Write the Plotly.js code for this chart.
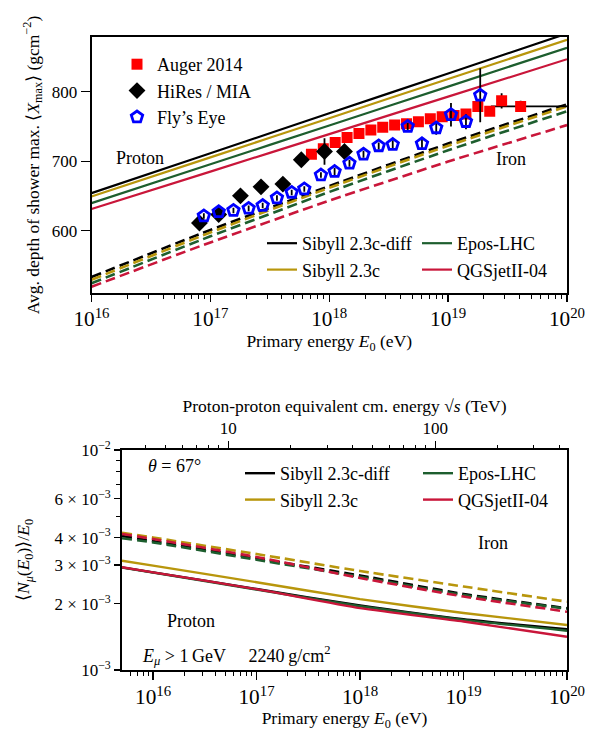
<!DOCTYPE html>
<html><head><meta charset="utf-8">
<script src="https://cdn.plot.ly/plotly-3.0.1.min.js"></script>
<style>html,body{margin:0;padding:0;background:#fff;} #chart{width:595px;height:731px;}</style>
</head><body><div id="chart"></div>
<script>
// ---------------- data ----------------
// Top panel: <Xmax> vs log10(E0/eV)
const modelNames = ['Sibyll 2.3c-diff', 'Sibyll 2.3c', 'Epos-LHC', 'QGSjetII-04'];
const modelColors = ['#000000', '#b8960c', '#1d5e2e', '#c9163a'];

const lgE_xmaxModel = [16, 17, 18, 19, 20];
const xmaxProton_sibyllDiff = [654, 711.5, 769, 826.5, 884];
const xmaxProton_sibyll     = [649, 705.5, 762, 818.5, 875];
const xmaxProton_epos       = [639.5, 695.5, 751.5, 807.5, 863.5];
const xmaxProton_qgsjet     = [631, 685, 739, 793, 847];
const xmaxIron_sibyllDiff   = [533, 600.9, 664.1, 725.4, 782];
const xmaxIron_sibyll       = [529, 597.2, 661.6, 722.2, 779];
const xmaxIron_epos         = [524, 591.7, 655.6, 715.7, 772];
const xmaxIron_qgsjet       = [519, 582.9, 643.1, 699.4, 752];

const auger_lgE  = [17.85, 17.95, 18.05, 18.15, 18.25, 18.35, 18.45, 18.55, 18.65, 18.75, 18.85, 18.95, 19.05, 19.15, 19.25, 19.35, 19.45, 19.61];
const auger_xmax = [710, 718, 727, 734, 740, 745, 749, 752, 754, 757, 761, 764, 766, 768, 779, 772, 787, 779];
const auger_err  = [2, 2, 2, 2, 2, 2, 3, 3, 3, 3, 3, 4, 4, 5, 6, 7, 11, 8];
const auger_lastBin_lgE = [19.36, 20.0];

const hires_lgE  = [16.908, 17.07, 17.253, 17.426, 17.61, 17.765, 17.96, 18.128];
const hires_xmax = [611, 623, 650, 663, 667, 702, 714, 714];
const hires_err  = [4, 4, 4, 4, 4, 5, 19, 5];

const fly_lgE  = [16.945, 17.07, 17.194, 17.322, 17.44, 17.56, 17.684, 17.79, 17.93, 18.045, 18.17, 18.288, 18.416, 18.534, 18.66, 18.78, 18.9, 19.024, 19.15, 19.27];
const fly_xmax = [621, 627, 629, 632, 636, 647, 655, 660, 680, 685, 697, 710, 722, 724, 750, 725, 748, 767, 757, 795];
const fly_err  = [4, 4, 4, 4, 4, 4, 4, 4, 4, 5, 5, 5, 5, 6, 5, 7, 10, 17, 11, 39];

// Bottom panel: <N_mu(E0)>/E0 vs log10(E0/eV)
const lgE_nmuModel = [15.7, 16, 17, 18, 19, 20];
const nmuProton_sibyllDiff = [2.929e-3, 2.780e-3, 2.334e-3, 1.963e-3, 1.700e-3, 1.531e-3];
const nmuProton_sibyll     = [3.14e-3, 2.98e-3, 2.506e-3, 2.099e-3, 1.817e-3, 1.601e-3];
const nmuProton_epos       = [2.92e-3, 2.77e-3, 2.32e-3, 1.95e-3, 1.69e-3, 1.509e-3];
const nmuProton_qgsjet     = [2.93e-3, 2.78e-3, 2.33e-3, 1.912e-3, 1.661e-3, 1.417e-3];
const nmuIron_sibyllDiff   = [4.064e-3, 3.856e-3, 3.218e-3, 2.689e-3, 2.216e-3, 1.908e-3];
const nmuIron_sibyll       = [4.207e-3, 4.001e-3, 3.367e-3, 2.818e-3, 2.396e-3, 2.044e-3];
const nmuIron_epos         = [3.97e-3, 3.80e-3, 3.17e-3, 2.65e-3, 2.19e-3, 1.90e-3];
const nmuIron_qgsjet       = [4.154e-3, 3.94e-3, 3.262e-3, 2.62e-3, 2.158e-3, 1.841e-3];

// tick labels
const xmaxTickVals = [600, 700, 800];
const nmuTickVals = [1e-3, 2e-3, 3e-3, 4e-3, 6e-3, 1e-2];
const nmuTickText = ['10<sup>\u22123</sup>', '2 \u00d7 10<sup>\u22123</sup>', '3 \u00d7 10<sup>\u22123</sup>', '4 \u00d7 10<sup>\u22123</sup>', '6 \u00d7 10<sup>\u22123</sup>', '10<sup>\u22122</sup>'];
const nmuMinorVals = [5e-3, 7e-3, 8e-3, 9e-3];
const sqrtsTickVals = [10, 100];
const sqrtsTickText = ['10', '100'];
const sqrtsMinorVals = [4, 5, 6, 7, 8, 9, 20, 30, 40, 50, 60, 70, 80, 90, 200, 300, 400];

// ---------------- helpers ----------------
const toE = a => a.map(v => Math.pow(10, v));
const protonMassEV = 0.938e9;
const lgSqrtsTeV = lgE => 0.5 * (Math.log10(2 * protonMassEV) + lgE) - 12;

const W = 595, H = 731;
const px = v => v / W;
const py = v => 1 - v / H;

const FONT = 'Liberation Serif, Times New Roman, serif';
const fs = 17.5;

const traces = [];
const xmaxProton = [xmaxProton_sibyllDiff, xmaxProton_sibyll, xmaxProton_epos, xmaxProton_qgsjet];
const xmaxIron = [xmaxIron_sibyllDiff, xmaxIron_sibyll, xmaxIron_epos, xmaxIron_qgsjet];
const nmuProton = [nmuProton_sibyllDiff, nmuProton_sibyll, nmuProton_epos, nmuProton_qgsjet];
const nmuIron = [nmuIron_sibyllDiff, nmuIron_sibyll, nmuIron_epos, nmuIron_qgsjet];
const topLegends = ['legend2', 'legend2', 'legend3', 'legend3'];
const botLegends = ['legend4', 'legend4', 'legend5', 'legend5'];

for (let i = 0; i < 4; i++) {
  traces.push({x: toE(lgE_xmaxModel), y: xmaxProton[i], xaxis: 'x', yaxis: 'y', mode: 'lines',
    line: {color: modelColors[i], width: 2.2, shape: 'spline', smoothing: 0.6},
    name: modelNames[i], legend: topLegends[i], showlegend: true});
}
for (let i = 0; i < 4; i++) {
  traces.push({x: toE(lgE_xmaxModel), y: xmaxIron[i], xaxis: 'x', yaxis: 'y', mode: 'lines',
    line: {color: modelColors[i], width: 2.6, dash: '10px,5px', shape: 'spline', smoothing: 0.6},
    name: modelNames[i] + ' (Fe)', showlegend: false});
}
// data
const augerE = toE(auger_lgE);
const lastIdx = augerE.length - 1;
const augerXPlus = augerE.map((e, i) => i === lastIdx ? Math.pow(10, auger_lastBin_lgE[1]) - e : 0);
const augerXMinus = augerE.map((e, i) => i === lastIdx ? e - Math.pow(10, auger_lastBin_lgE[0]) : 0);
traces.push({x: augerE, y: auger_xmax, xaxis: 'x', yaxis: 'y', mode: 'markers', name: 'Auger 2014',
  marker: {symbol: 'square', size: 11, color: '#ff0000'},
  error_y: {type: 'data', array: auger_err, color: '#000', thickness: 1.8, width: 0},
  error_x: {type: 'data', array: augerXPlus, arrayminus: augerXMinus, symmetric: false, color: '#000', thickness: 1.8, width: 0},
  legend: 'legend'});
traces.push({x: toE(hires_lgE), y: hires_xmax, xaxis: 'x', yaxis: 'y', mode: 'markers', name: 'HiRes / MIA',
  marker: {symbol: 'diamond', size: 13, color: '#000000'},
  error_y: {type: 'data', array: hires_err, color: '#000', thickness: 1.8, width: 0},
  legend: 'legend'});
traces.push({x: toE(fly_lgE), y: fly_xmax, xaxis: 'x', yaxis: 'y', mode: 'markers', name: 'Fly\u2019s Eye',
  marker: {symbol: 'pentagon-open', size: 12, color: '#0000ff', line: {width: 2.8, color: '#0000ff'}},
  error_y: {type: 'data', array: fly_err, color: '#000', thickness: 1.8, width: 0},
  legend: 'legend'});

// bottom
for (let i = 0; i < 4; i++) {
  traces.push({x: toE(lgE_nmuModel), y: nmuIron[i], xaxis: 'x2', yaxis: 'y2', mode: 'lines',
    line: {color: modelColors[i], width: 2.6, dash: '10px,5px', shape: 'spline', smoothing: 0.6},
    name: modelNames[i] + ' (Fe)', showlegend: false});
}
for (let i = 0; i < 4; i++) {
  traces.push({x: toE(lgE_nmuModel), y: nmuProton[i], xaxis: 'x2', yaxis: 'y2', mode: 'lines',
    line: {color: modelColors[i], width: 2.4, shape: 'spline', smoothing: 0.6},
    name: modelNames[i], legend: botLegends[i], showlegend: true});
}
// binds the secondary sqrt(s) axis
traces.push({x: [], y: [], xaxis: 'x3', yaxis: 'y2', mode: 'lines', showlegend: false, hoverinfo: 'skip'});

const tickFont = {family: FONT, size: 17, color: '#000'};
const axisCommon = {showline: true, linecolor: '#000', linewidth: 1.8, mirror: true, ticks: 'outside',
  tickcolor: '#000', tickwidth: 1.3, showgrid: false, zeroline: false, tickfont: tickFont, automargin: false};

const legendCommon = {bgcolor: 'rgba(0,0,0,0)', borderwidth: 0, xanchor: 'left', yanchor: 'top',
  font: {family: FONT, size: 18, color: '#000'}, itemwidth: 30, traceorder: 'normal'};

const annFont = {family: FONT, size: 18, color: '#000'};
const ann = (x, y, text) => ({xref: 'paper', yref: 'paper', x: px(x), y: py(y), text: text,
  showarrow: false, font: annFont, xanchor: 'center', yanchor: 'middle'});

const layout = {
  width: W, height: H,
  margin: {l: 0, r: 0, t: 0, b: 0},
  paper_bgcolor: '#fff', plot_bgcolor: '#fff',
  hovermode: false,
  font: {family: FONT, size: fs, color: '#000'},
  xaxis: Object.assign({}, axisCommon, {type: 'log', range: [16, 20], domain: [px(91.5), px(567)], anchor: 'y',
    dtick: 1, exponentformat: 'power', ticklen: 7,
    minor: {ticks: 'outside', ticklen: 4, tickwidth: 1, tickcolor: '#000', dtick: 'D1'},
    title: {text: 'Primary energy <i>E</i><sub>0</sub> (eV)', font: {family: FONT, size: fs}, standoff: 1}}),
  yaxis: Object.assign({}, axisCommon, {range: [510, 879], domain: [py(293), py(37)], anchor: 'x',
    tickvals: xmaxTickVals, ticklen: 9,
    title: {text: 'Avg. depth of shower max. \u27e8<i>X</i><sub>max</sub>\u27e9 (gcm<sup>\u22122</sup>)', font: {family: FONT, size: fs}, standoff: 8}}),
  xaxis2: Object.assign({}, axisCommon, {type: 'log', range: [15.7, 20], domain: [px(122), px(567)], anchor: 'y2',
    dtick: 1, exponentformat: 'power', ticklen: 8,
    minor: {ticks: 'outside', ticklen: 4, tickwidth: 1, tickcolor: '#000', dtick: 'D1'},
    title: {text: 'Primary energy <i>E</i><sub>0</sub> (eV)', font: {family: FONT, size: fs}, standoff: 5}}),
  yaxis2: Object.assign({}, axisCommon, {type: 'log', range: [-3, -2], domain: [py(670), py(450)], anchor: 'x2',
    tickvals: nmuTickVals, ticktext: nmuTickText, ticklen: 6,
    minor: {ticks: 'outside', ticklen: 4, tickwidth: 1, tickcolor: '#000', tickvals: nmuMinorVals},
    title: {text: '\u27e8<i>N</i><sub><i>\u03bc</i></sub>(<i>E</i><sub>0</sub>)\u27e9/<i>E</i><sub>0</sub>', font: {family: FONT, size: fs}, standoff: 20}}),
  xaxis3: {type: 'log', overlaying: 'x2', side: 'top', anchor: 'y2',
    range: [lgSqrtsTeV(15.7), lgSqrtsTeV(20)],
    showline: false, showgrid: false, zeroline: false, ticks: 'outside', ticklen: 8, tickwidth: 1.3, tickcolor: '#000',
    tickvals: sqrtsTickVals, ticktext: sqrtsTickText, tickfont: tickFont, automargin: false,
    minor: {ticks: 'outside', ticklen: 4, tickwidth: 1, tickcolor: '#000', tickvals: sqrtsMinorVals},
    title: {text: 'Proton-proton equivalent cm. energy \u221a<i>s</i> (TeV)', font: {family: FONT, size: fs}, standoff: 2}},
  legend: Object.assign({}, legendCommon, {x: px(117), y: py(46)}),
  legend2: Object.assign({}, legendCommon, {x: px(262), y: py(225)}),
  legend3: Object.assign({}, legendCommon, {x: px(417), y: py(225)}),
  legend4: Object.assign({}, legendCommon, {x: px(240), y: py(455)}),
  legend5: Object.assign({}, legendCommon, {x: px(418), y: py(455)}),
  annotations: [
    ann(140, 158, 'Proton'),
    ann(511, 159, 'Iron'),
    ann(174, 466, '<i>\u03b8</i> = 67\u00b0'),
    ann(493, 543, 'Iron'),
    ann(191, 621, 'Proton'),
    ann(236, 655, '<i>E</i><sub><i>\u03bc</i></sub> > 1\u2009GeV\u2003 2240\u2009g/cm<sup>2</sup>')
  ]
};

Plotly.newPlot('chart', traces, layout, {staticPlot: true, displayModeBar: false});
</script>
</body></html>
